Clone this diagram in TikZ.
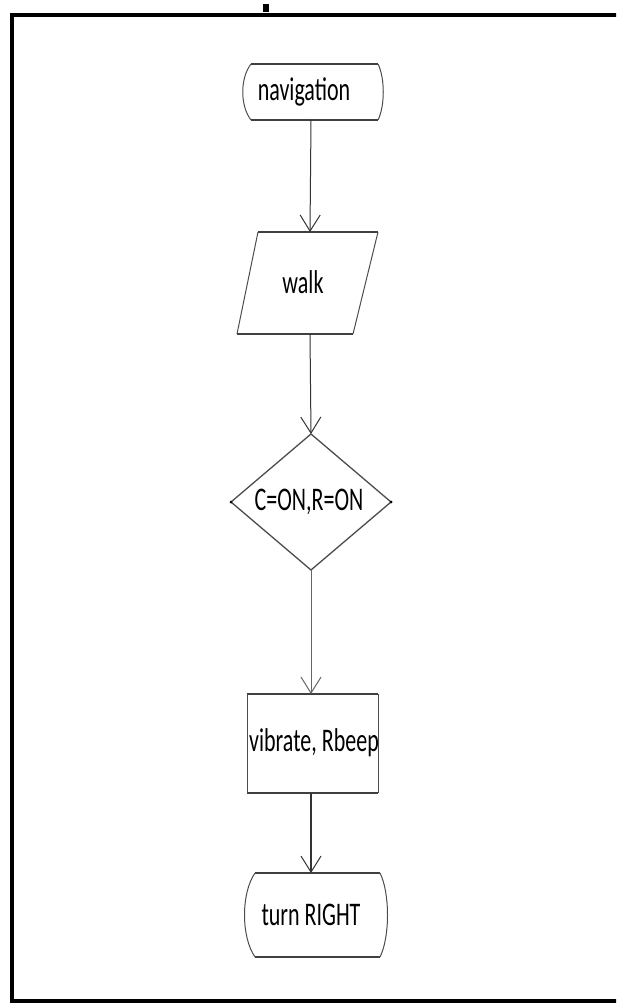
\documentclass[tikz,border=0pt]{standalone}
\usepackage{fontspec}
\usepackage{graphicx}
\setmainfont{Carlito}
\usetikzlibrary{arrows.meta}

% text set tall and narrow, as in the flowchart
\newcommand\talltext[1]{\scalebox{1}[1.5]{#1}}

\begin{document}
\begin{tikzpicture}[x=1pt,y=-1pt,
  edge/.style={draw=black!70, line width=1pt},
  rim/.style={draw=black!75, line width=2pt},
  flow/.style={draw=black!80, line width=1pt,
    -{Straight Barb[length=16pt,width=20pt,line width=1pt]}},
  lbl/.style={font=\fontsize{22}{24}\selectfont, inner sep=0pt, text=black}]

\useasboundingbox (0,0) rectangle (616,1003);
\clip (0,0) rectangle (616,1003);

% outer frame and the small mark above it
\draw[line width=3.8pt, line join=miter] (630,15) -- (12,15) -- (12,1001) -- (630,1001);
\fill[black] (263,4) rectangle (269,12);

% ---- start terminator
\draw[rim] (251,64) -- (378,64);
\draw[rim] (251,120) -- (378,120);
\draw[edge] (251,64) .. controls (240,78) and (240,106) .. (251,120);
\draw[edge] (378,64) .. controls (385,78) and (385,106) .. (378,120);
\node[lbl] (nav) at (304,92) {\talltext{navigation}};
\coordinate (navB) at (311,120);

% ---- input parallelogram
\draw[rim] (258,232) -- (378,232);
\draw[rim] (237,334) -- (353,334);
\draw[edge] (258,232) -- (237,334);
\draw[edge] (378,232) -- (353,334);
\node[lbl] (walk) at (303,282) {\talltext{walk}};
\coordinate (walkT) at (310,232);
\coordinate (walkB) at (310,334);

% ---- decision diamond
\draw[edge, line width=1.3pt] (311,434) -- (391,502) -- (311,570) -- (231,502) -- cycle;
\fill[black] (231,502) circle (1.5pt) (391,502) circle (1.5pt);
\node[lbl] (cond) at (309,502) {\talltext{C=ON,R=ON}};
\coordinate (condT) at (311,434);
\coordinate (condB) at (311,570);

% ---- process box
\draw[rim] (247,694) -- (378,694);
\draw[rim] (247,793) -- (378,793);
\draw[edge] (247,694) -- (247,793);
\draw[edge] (378,694) -- (378,793);
\node[lbl] (act) at (314,743) {\talltext{vibrate, Rbeep}};
\coordinate (actT) at (311,694);
\coordinate (actB) at (311,793);

% ---- end terminator
\draw[rim] (255,873) -- (380,873);
\draw[rim] (255,957) -- (380,957);
\draw[edge] (255,873) .. controls (241,893) and (241,937) .. (255,957);
\draw[edge] (380,873) .. controls (390,893) and (390,937) .. (380,957);
\node[lbl] (turn) at (311,915) {\talltext{turn RIGHT}};
\coordinate (turnT) at (311,873);

% ---- connectors
\draw[flow] (navB) -- (walkT);
\draw[flow] (walkB) -- (condT);
\draw[flow, draw=black!60] (condB) -- (actT);
\draw[flow, line width=1.4pt] (actB) -- (turnT);

\end{tikzpicture}
\end{document}
